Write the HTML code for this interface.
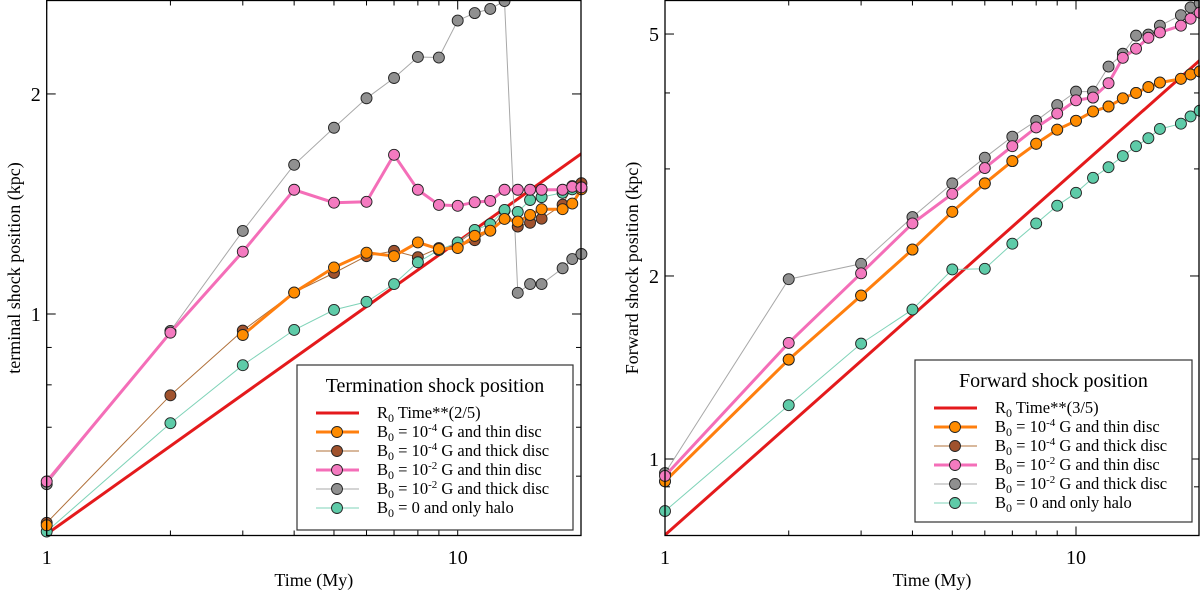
<!DOCTYPE html>
<html><head><meta charset="utf-8"><style>
html,body{margin:0;padding:0;background:#fff;width:1200px;height:593px;overflow:hidden}
svg text{font-family:"Liberation Serif",serif;fill:#000}
</style></head><body>
<svg id="fig" width="1200" height="593" xmlns="http://www.w3.org/2000/svg"></svg>
<script>
const times = [1,2,3,4,5,6,7,8,9,10,11,12,13,14,15,16,18,19,20];
// Left panel: termination shock (kpc)
const leftOrange = [0.514,null,0.936,1.070,1.158,1.213,1.20,1.253,1.227,1.231,1.279,1.30,1.349,1.338,1.366,1.391,1.391,1.416,1.481];
const leftBrown  = [0.518,0.774,0.949,1.070,1.138,1.20,1.22,1.196,1.231,1.236,1.262,1.30,1.385,1.317,1.333,1.350,1.411,1.496,1.51];
const leftPink   = [0.590,0.943,1.217,1.479,1.420,1.424,1.651,1.479,1.41,1.406,1.422,1.428,1.479,1.479,1.479,1.479,1.479,1.493,1.49];
const leftGrey   = [0.585,0.948,1.299,1.60,1.798,1.973,2.103,2.247,2.243,2.52,2.58,2.614,2.68,1.069,1.099,1.099,1.155,1.189,1.208];
const leftTeal   = [0.504,0.709,0.851,0.951,1.013,1.039,1.099,1.177,1.223,1.253,1.303,1.327,1.388,1.379,1.432,1.445,1.465,1.481,1.49];
const leftR0 = 0.5, leftExp = 0.4;
// Right panel: forward shock (kpc)
const rightOrange = [0.919,1.457,1.857,2.21,2.55,2.84,3.09,3.30,3.48,3.60,3.73,3.80,3.92,4.00,4.09,4.16,4.22,4.29,4.34];
const rightBrown  = [0.919,1.457,1.857,2.21,2.55,2.84,3.09,3.30,3.48,3.60,3.73,3.80,3.92,4.00,4.09,4.16,4.22,4.29,4.34];
const rightPink   = [0.938,1.552,2.02,2.44,2.73,3.01,3.27,3.51,3.70,3.89,3.93,4.15,4.57,4.73,4.93,5.03,5.16,5.30,5.42];
const rightGrey   = [0.948,1.976,2.094,2.50,2.84,3.13,3.39,3.60,3.82,4.02,4.02,4.42,4.64,4.97,4.99,5.16,5.37,5.53,5.62];
const rightTeal   = [0.821,1.226,1.548,1.761,2.05,2.055,2.26,2.44,2.61,2.74,2.90,3.02,3.15,3.27,3.37,3.49,3.56,3.66,3.74];
const rightR0 = 0.75, rightExp = 0.6;
const xTickLabels = ["1","10"];
const leftYTickLabels = ["1","2"];
const rightYTickLabels = ["1","2","5"];

const NS="http://www.w3.org/2000/svg";
const svg=document.getElementById('fig');
function mk(tag,attrs,parent){const e=document.createElementNS(NS,tag);for(const k in attrs)e.setAttribute(k,attrs[k]);(parent||svg).appendChild(e);return e;}

function panel(cfg){
  const g=mk('g',{});
  
  
  const L=cfg.x0,R=cfg.x1,T=0.5,B=535.5;
  const sx=t=>L+411*Math.log10(t);
  const sy=v=>cfg.y1-cfg.dec*Math.log10(v);
  const clip='clip-'+cfg.name;
  const cp=mk('clipPath',{id:clip},g);mk('rect',{x:L-7,y:T-7,width:R-L+14,height:B-T+14},cp);
  const tk=mk('g',{stroke:'#000','stroke-width':1},g);
  
  for(let d=0;d<=10;d+=10)for(let m=1;m<=9;m++){const t=m*(d||1);if(d===10&&m>2)continue;const x=sx(t);if(x>R)continue;const len=(m===1)?9:5;
    mk('line',{x1:x,y1:B,x2:x,y2:B-len},tk);mk('line',{x1:x,y1:T,x2:x,y2:T+len},tk);}
  cfg.yticks.forEach(v=>{const y=sy(v);const len=cfg.ymaj.includes(v)?9:5;mk('line',{x1:L,y1:y,x2:L+len,y2:y},tk);mk('line',{x1:R,y1:y,x2:R-len,y2:y},tk);});
  const data=mk('g',{'clip-path':'url(#'+clip+')'},g);
  const cp2=mk('clipPath',{id:clip+'-in'},g);mk('rect',{x:L,y:T,width:R-L,height:B-T},cp2);
  const rl=mk('line',{x1:sx(1),y1:sy(cfg.r0),x2:sx(22),y2:sy(cfg.r0*Math.pow(22,cfg.exp)),stroke:'#e41a1c','stroke-width':3,'clip-path':'url(#'+clip+'-in)'},data);
  
  cfg.drawOrder.forEach(idx=>{const s=cfg.series[idx];
    const sg=mk('g',{},data);
    
    let segs=[],cur=[];
    s.vals.forEach((v,i)=>{if(v==null){if(cur.length)segs.push(cur);cur=[];}else cur.push(sx(times[i]).toFixed(1)+','+sy(v).toFixed(1));});
    if(cur.length)segs.push(cur);
    segs.forEach(p=>mk('polyline',{points:p.join(' '),fill:'none',stroke:s.line,'stroke-width':s.w},sg));
    s.vals.forEach((v,i)=>{if(v==null)return;const c=mk('circle',{cx:sx(times[i]),cy:sy(v),r:5.5,fill:s.fill,stroke:'#222','stroke-width':0.9},sg);
      });
  });
  mk('rect',{x:L,y:T,width:R-L,height:B-T,fill:'none',stroke:'#000','stroke-width':1.3},g);
  xTickLabels.forEach((s,i)=>{const t=mk('text',{x:sx(Math.pow(10,i)),y:564,'font-size':20,'text-anchor':'middle'},g);t.textContent=s;
    });
  cfg.ylabels.forEach(s=>{const t=mk('text',{x:L-6,y:sy(+s)+7,'font-size':20,'text-anchor':'end'},g);t.textContent=s;
    });
  const xt=mk('text',{x:(L+R)/2,y:586,'font-size':18,'text-anchor':'middle'},g);xt.textContent='Time (My)';
  
  const yt=mk('text',{x:0,y:0,'font-size':18,'text-anchor':'middle',transform:`translate(${cfg.ytx},268) rotate(-90)`},g);yt.textContent=cfg.ytitle;
  
  const lg=mk('g',{},g);
  const lb=cfg.leg;
  mk('rect',{x:lb.x,y:lb.y,width:lb.w,height:lb.h,fill:'#fff',stroke:'#333','stroke-width':1.2},lg);
  const tt=mk('text',{x:lb.x+lb.w/2,y:lb.y+27,'font-size':20,'text-anchor':'middle'},lg);tt.textContent=cfg.legTitle;
  const items=[{line:'#e41a1c',w:3,fill:null,lab:'R<tspan font-size="12" dy="4">0</tspan><tspan dy="-4"> Time**('+cfg.expLab+')</tspan>'}].concat(cfg.series.map(s=>({line:s.line,w:s.w,fill:s.fill,lab:s.lab})));
  items.forEach((it,i)=>{const y=lb.y+48+i*19;const e=mk('g',{},lg);
    
    mk('line',{x1:lb.x+19,y1:y,x2:lb.x+62,y2:y,stroke:it.line,'stroke-width':it.w},e);
    if(it.fill)mk('circle',{cx:lb.x+40,cy:y,r:5.5,fill:it.fill,stroke:'#222','stroke-width':0.9},e);
    const t=mk('text',{x:lb.x+80,y:y+5,'font-size':16.5},e);t.innerHTML=it.lab;});
}
function bl(exp,rest){return 'B<tspan font-size="12" dy="4">0</tspan><tspan dy="-4"> = 10</tspan><tspan font-size="11" dy="-6">'+exp+'</tspan><tspan dy="6"> '+rest+'</tspan>';}
function ser(o,b,p,gr,te){return [
  {name:'series-1e-4-thin',vals:o,line:'#ff7f0e',fill:'#ff8c00',w:3,lab:bl('-4','G and thin disc')},
  {name:'series-1e-4-thick',vals:b,line:'#b0703a',fill:'#a0522d',w:1,lab:bl('-4','G and thick disc')},
  {name:'series-1e-2-thin',vals:p,line:'#f46eb8',fill:'#f47ac0',w:3,lab:bl('-2','G and thin disc')},
  {name:'series-1e-2-thick',vals:gr,line:'#a8a8a8',fill:'#909090',w:1,lab:bl('-2','G and thick disc')},
  {name:'series-halo',vals:te,line:'#7fd3b8',fill:'#5ecba8',w:1,lab:'B<tspan font-size="12" dy="4">0</tspan><tspan dy="-4"> = 0 and only halo</tspan>'}];}
const lS=ser(leftOrange,leftBrown,leftPink,leftGrey,leftTeal);
const rS=ser(rightOrange,rightBrown,rightPink,rightGrey,rightTeal);
panel({name:'left-panel',x0:46.7,x1:581,y1:314,dec:731,r0:leftR0,exp:leftExp,expLab:'2/5',drawOrder:[3,1,4,0,2],
  yticks:[0.6,0.7,0.8,0.9,1,2],ymaj:[1,2],ylabels:leftYTickLabels,ytx:20,ytitle:'terminal shock position (kpc)',
  series:lS,legTitle:'Termination shock position',leg:{x:297,y:365,w:276,h:165}});
panel({name:'right-panel',x0:665,x1:1199,y1:459,dec:608,r0:rightR0,exp:rightExp,expLab:'3/5',drawOrder:[1,0,4,3,2],
  yticks:[0.9,1,2,3,4,5],ymaj:[1,2,5],ylabels:rightYTickLabels,ytx:638,ytitle:'Forward shock position (kpc)',
  series:rS,legTitle:'Forward shock position',leg:{x:915,y:360,w:277,h:162}});
</script>
</body></html>
